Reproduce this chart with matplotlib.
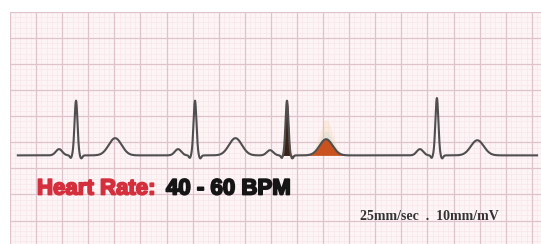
import numpy as np
import matplotlib.pyplot as plt
import matplotlib.patheffects as pe

# beats (time in s at 25 mm/s, amplitude in mV at 10 mm/mV)
r_times = [0.506, 1.418, 2.123, 3.272]
r_amps = [1.05, 1.05, 1.05, 1.10]
p_offsets = [-0.13, -0.13, -0.13, -0.13]
p_amps = [0.12, 0.12, 0.10, 0.12]
t_offsets = [0.30, 0.31, 0.30, 0.31]
t_amps = [0.33, 0.33, 0.31, 0.29]
s_amps = [-0.06, -0.06, -0.06, -0.06]
highlight = 2  # beat drawn with coloured fill

title_red = "Heart Rate:"
title_black = "40 - 60 BPM"
scale_text = "25mm/sec  .  10mm/mV"

t = np.linspace(0.06, 4.04, 3000)


def beat(i, tt):
    r = r_times[i]
    y = p_amps[i] * np.exp(-((tt - r - p_offsets[i]) / 0.035) ** 2)
    y += r_amps[i] * np.exp(-((tt - r) / 0.016) ** 2)
    y += -0.05 * np.exp(-((tt - r + 0.04) / 0.01) ** 2)
    y += s_amps[i] * np.exp(-((tt - r - 0.04) / 0.012) ** 2)
    y += t_amps[i] * np.exp(-((tt - r - t_offsets[i]) / 0.07) ** 2)
    return y


ecg = sum(beat(i, t) for i in range(len(r_times)))

fig = plt.figure(figsize=(5.41, 2.44), dpi=100, facecolor="white")
ax = fig.add_axes([10 / 541, 0, 531 / 541, 232 / 244])
ax.set_facecolor("#fdf4f6")
ax.set_xlim(0, 4.07)
ax.set_ylim(-1.70, 2.75)

# ECG paper grid
for x in np.arange(0, 4.1, 0.04):
    ax.axvline(x, color="#f7e6ea", lw=0.5, zorder=0)
for y in np.arange(2.75, -1.8, -0.1):
    ax.axhline(y, color="#f7e6ea", lw=0.5, zorder=0)
for x in np.arange(0, 4.1, 0.2):
    ax.axvline(x, color="#dfc3cc", lw=0.9, zorder=1)
for y in np.arange(2.75, -1.8, -0.5):
    ax.axhline(y, color="#dfc3cc", lw=0.9, zorder=1)

# highlighted beat
r = r_times[highlight]
m_qrs = (t > r - 0.06) & (t < r + 0.07)
m_t = (t > r + 0.12) & (t < r + 0.50)
ax.fill_between(t[m_t], 0, ecg[m_t] * 2.2, color="#f5c070", alpha=0.18, lw=0, zorder=2)
ax.fill_between(t[m_t], 0, ecg[m_t] * 1.5, color="#7fd0d0", alpha=0.15, lw=0, zorder=2)
ax.fill_between(t[m_qrs], 0, ecg[m_qrs] * 1.02, color="#b03028", lw=0, zorder=3)
ax.fill_between(t[m_qrs], 0, ecg[m_qrs], color="#3b2218", lw=0, zorder=3)
ax.fill_between(t[m_t], 0, ecg[m_t], color="#c9521f", lw=0, zorder=3)

ax.plot(t, ecg, color="#4f4f4f", lw=1.5, zorder=4)

ax.set_xticks([])
ax.set_yticks([])
for s in ax.spines.values():
    s.set_visible(False)

fig.text(37 / 541, 1 - 189 / 244, title_red, color="#d42f3c", fontsize=16,
         fontweight="bold", family="Liberation Sans", va="center", ha="left",
         path_effects=[pe.withStroke(linewidth=1.3, foreground="#d42f3c")])
fig.text(166 / 541, 1 - 189 / 244, title_black, color="#151515", fontsize=16,
         fontweight="bold", family="Liberation Sans", va="center", ha="left",
         path_effects=[pe.withStroke(linewidth=1.3, foreground="#151515")])
fig.text(360 / 541, 1 - 217 / 244, scale_text, color="#333333", fontsize=10,
         fontweight="bold", family="Liberation Serif", va="center", ha="left")

fig.savefig("out.png", dpi=100, facecolor=fig.get_facecolor())
